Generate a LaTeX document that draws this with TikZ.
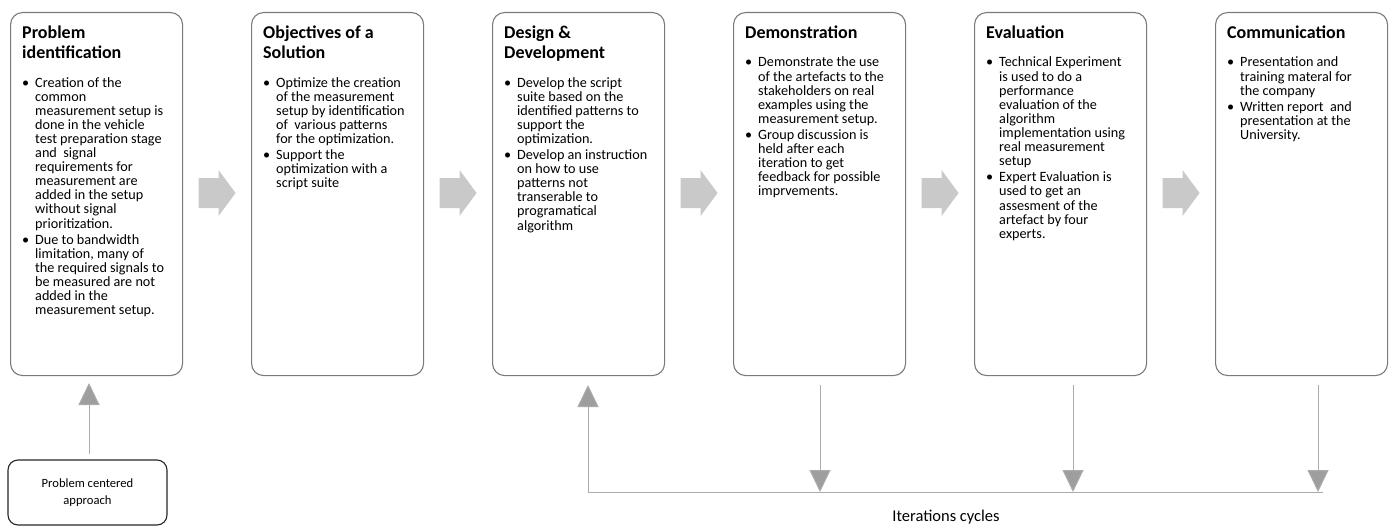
\documentclass[tikz,border=0pt]{standalone}
\usepackage{fontspec}
\setmainfont{Carlito}
\usetikzlibrary{arrows.meta,calc}
\newcommand\bodyfont{\fontsize{14.2}{14.1}\selectfont}
\newcommand\stagetitle[1]{{\fontsize{18}{20}\selectfont\bfseries #1\par}\vspace{13.9pt}}
\newcommand\bitem[1]{\par\hangindent=13pt\hangafter=1\noindent\makebox[13pt][l]{\textbullet}{\let\\\newline #1}\par}
\newcommand\itemgap{\vspace{2pt}}
\newcommand\stagebody[1]{\vtop{\hsize=168pt\parindent=0pt\raggedright\lineskiplimit=-100pt\bodyfont #1}}
\tikzset{
  x=1pt, y=1pt,
  stage/.style={draw=black!52, line width=1.1pt, rounded corners=12pt, minimum width=172pt, minimum height=363pt, inner sep=0pt, anchor=north west},
  stagetext/.style={anchor=base west, inner sep=0pt},
  blockarrow/.style={fill=black!21},
  flow/.style={draw=black!33, line width=1pt, -{Triangle[length=22pt,width=21pt,fill=black!38]}},
  startbox/.style={draw=black!85, line width=1.1pt, rounded corners=10pt, minimum width=159pt, minimum height=65pt, align=center, inner sep=0pt, font=\fontsize{12.6}{17}\selectfont},
  looplabel/.style={font=\fontsize{16.5}{19}\selectfont, inner sep=0pt},
}
\begin{document}
\begin{tikzpicture}
\useasboundingbox (0,0) rectangle (1391,-527);
% stage boxes
\foreach \i in {1,...,6}{
  \node[stage] (b\i) at ({10+241*(\i-1)},-12) {};
}
% block arrows between stages
\foreach \i/\j in {1/2,2/3,3/4,4/5,5/6}{
  \coordinate (m\i) at ($(b\i.north east)!0.5!(b\j.north west)+(0,-181)$);
  \fill[blockarrow] ($(m\i)+(-18.5,15)$) -- ($(m\i)+(1.5,15)$) -- ($(m\i)+(1.5,23)$) -- ($(m\i)+(18.5,0)$)
     -- ($(m\i)+(1.5,-23)$) -- ($(m\i)+(1.5,-15)$) -- ($(m\i)+(-18.5,-15)$) -- cycle;
}
% texts
\node[stagetext] (t1) at ($(b1.north west)+(12,-27)$) {\stagebody{%
  \stagetitle{Problem\\identification}
  \bitem{Creation of the\\common\\measurement setup is\\done in the vehicle\\test preparation stage\\and\ \ signal\\requirements for\\measurement are\\added in the setup\\without signal\\prioritization.}
  \itemgap
  \bitem{Due to bandwidth\\limitation, many of\\the required signals to\\be measured are not\\added in the\\measurement setup.}}};
\node[stagetext] (t2) at ($(b2.north west)+(12,-27)$) {\stagebody{%
  \stagetitle{Objectives of a\\Solution}
  \bitem{Optimize the creation\\of the measurement\\setup by identification\\of\ \ various patterns\\for the optimization.}
  \itemgap
  \bitem{Support the\\optimization with a\\script suite}}};
\node[stagetext] (t3) at ($(b3.north west)+(12,-27)$) {\stagebody{%
  \stagetitle{Design \&\\Development}
  \bitem{Develop the script\\suite based on the\\identified patterns to\\support the\\optimization.}
  \itemgap
  \bitem{Develop an instruction\\on how to use\\patterns not\\transerable to\\programatical\\algorithm}}};
\node[stagetext] (t4) at ($(b4.north west)+(12,-27)$) {\stagebody{%
  \stagetitle{Demonstration}
  \bitem{Demonstrate the use\\of the artefacts to the\\stakeholders on real\\examples using the\\measurement setup.}
  \itemgap
  \bitem{Group discussion is\\held after each\\iteration to get\\feedback for possible\\imprvements.}}};
\node[stagetext] (t5) at ($(b5.north west)+(12,-27)$) {\stagebody{%
  \stagetitle{Evaluation}
  \bitem{Technical Experiment\\is used to do a\\performance\\evaluation of the\\algorithm\\implementation using\\real measurement\\setup}
  \itemgap
  \bitem{Expert Evaluation is\\used to get an\\assesment of the\\artefact by four\\experts.}}};
\node[stagetext] (t6) at ($(b6.north west)+(12,-27)$) {\stagebody{%
  \stagetitle{Communication}
  \bitem{Presentation and\\training materal for\\the company}
  \itemgap
  \bitem{Written report\ \ and\\presentation at the\\University.}}};
% problem centered approach
\node[startbox] (pca) at (87.5,-492.5) {Problem centered\\approach};
\coordinate (pcatip) at (89,-383);
\coordinate (pcastart) at ($(pca.north -| pcatip)+(0,5)$);
\draw[flow] (pcastart) -- (pcatip);
% iteration loop
\coordinate (loopL) at (588,-492);
\coordinate (loopR) at (1323,-492);
\coordinate (upTip) at (588,-385);
\coordinate (s4) at (820,-385);
\coordinate (s5) at (1073,-385);
\coordinate (s6) at (1318,-385);
\draw[draw=black!33, line width=1pt] (loopR) -- (loopL);
\draw[flow] (loopL) -- (upTip);
\foreach \k in {4,5,6}{
  \draw[flow] (s\k) -- (s\k |- loopL);
}
\node[looplabel] (iter) at (946,-517) {Iterations cycles};
\end{tikzpicture}
\end{document}
